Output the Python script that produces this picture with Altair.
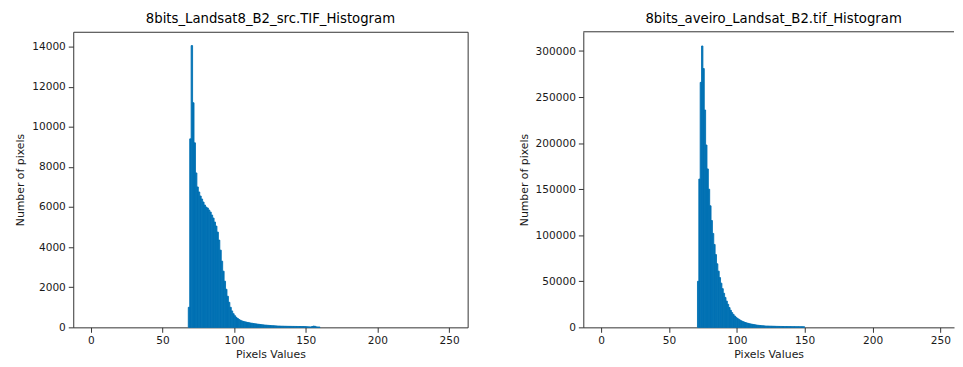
import altair as alt
import pandas as pd

# ---------------- data ----------------
left_title = "8bits_Landsat8_B2_src.TIF_Histogram"
right_title = "8bits_aveiro_Landsat_B2.tif_Histogram"
x_ticks = [0, 50, 100, 150, 200, 250]
left_y_ticks = [0, 2000, 4000, 6000, 8000, 10000, 12000, 14000]
right_y_ticks = [0, 50000, 100000, 150000, 200000, 250000, 300000]

left_start = 68
left_counts = [
    1000, 9400, 14050, 11200, 9200, 7700, 7000, 6750, 6550, 6400,
    6250, 6100, 6000, 5950, 5850, 5750, 5600, 5450, 5250, 5050,
    4750, 4350, 3850, 3300, 2800, 2300, 1900, 1550, 1250, 1000,
    820, 680, 580, 500, 440, 390, 350, 320, 295, 275,
    260, 245, 230, 215, 205, 190, 180, 170, 160, 150,
    140, 130, 122, 115, 108, 102, 96, 90, 85, 80,
    75, 70, 66, 63, 60, 58, 56, 54, 52, 50,
    49, 48, 47, 46, 45, 44, 43, 42, 41, 40,
    39, 38, 30, 25, 20, 18, 40, 60, 50, 20,
    15, 10,
]

right_start = 71
right_counts = [
    50000, 161000, 266000, 305500, 281000, 236000, 198000, 172000, 150000, 132000,
    116000, 102000, 90000, 79000, 69000, 61000, 54000, 48000, 42000, 37000,
    32500, 28500, 25000, 21500, 18500, 16000, 14000, 12300, 10900, 9700,
    8700, 7800, 7000, 6300, 5700, 5200, 4700, 4300, 3900, 3600,
    3300, 3000, 2750, 2500, 2300, 2100, 1950, 1800, 1650, 1550,
    1450, 1400, 1350, 1300, 1250, 1200, 1150, 1100, 1060, 1020,
    990, 960, 930, 900, 880, 860, 840, 820, 800, 780,
    760, 740, 720, 700, 680, 660, 640, 620, 600,
]


def to_frame(start, counts):
    return pd.DataFrame({
        "bin_start": [start + i for i in range(len(counts))],
        "bin_end": [start + i + 1 for i in range(len(counts))],
        "count": counts,
    })


left_df = to_frame(left_start, left_counts)
right_df = to_frame(right_start, right_counts)

FONT = "DejaVu Sans"
BAR = "#0071b3"
AX = "#333333"
TXT = "#1a1a1a"


def axis(title, values, domain):
    return alt.Axis(
        title=title, values=values, format="d", grid=False, domain=domain,
        domainColor=AX, tickColor=AX, tickSize=5, labelPadding=3,
        labelFont=FONT, labelFontSize=10.7, labelColor=TXT,
        titleFont=FONT, titleFontSize=11, titleFontWeight="normal", titleColor=TXT,
    )


def bars(df, xdom, ymax, yticks, domain):
    return alt.Chart(df).mark_rect(color=BAR, stroke=BAR, strokeWidth=0.9).encode(
        x=alt.X("bin_start:Q", scale=alt.Scale(domain=xdom, nice=False, zero=False, padding=0),
                axis=axis("Pixels Values", x_ticks, domain)),
        x2="bin_end:Q",
        y=alt.Y("count:Q", scale=alt.Scale(domain=[0, ymax], nice=False, padding=0),
                axis=axis("Number of pixels", yticks, domain)),
        y2=alt.datum(0),
    )


def title(text, dx=0):
    return alt.TitleParams(text=text, font=FONT, fontSize=13.4, fontWeight="normal",
                           color="black", anchor="middle", frame="group", offset=6, dx=dx)


left = bars(left_df, [-12.3, 263], 14739, left_y_ticks, False).properties(
    width=399, height=299, title=title(left_title),
    view=alt.ViewBackground(stroke=AX, strokeWidth=1),
)

RW = 375
top_line = alt.Chart(pd.DataFrame({"k": [0]})).mark_rule(color=AX, strokeWidth=1).encode(
    x=alt.value(0), x2=alt.value(RW), y=alt.value(0)
)
right = alt.layer(
    bars(right_df, [-13.1, 260], 320930, right_y_ticks, True),
    top_line,
).properties(
    width=RW, height=299, title=title(right_title, dx=5),
    view=alt.ViewBackground(stroke=None),
)

chart = alt.hconcat(left, right, spacing=50).properties(
    padding={"left": 6, "top": 2, "right": 0, "bottom": 0},
).configure_axisY(titlePadding=6).configure_axisX(titlePadding=4, labelPadding=2)

chart.save("out.html", embed_options={"renderer": "svg", "actions": False})
